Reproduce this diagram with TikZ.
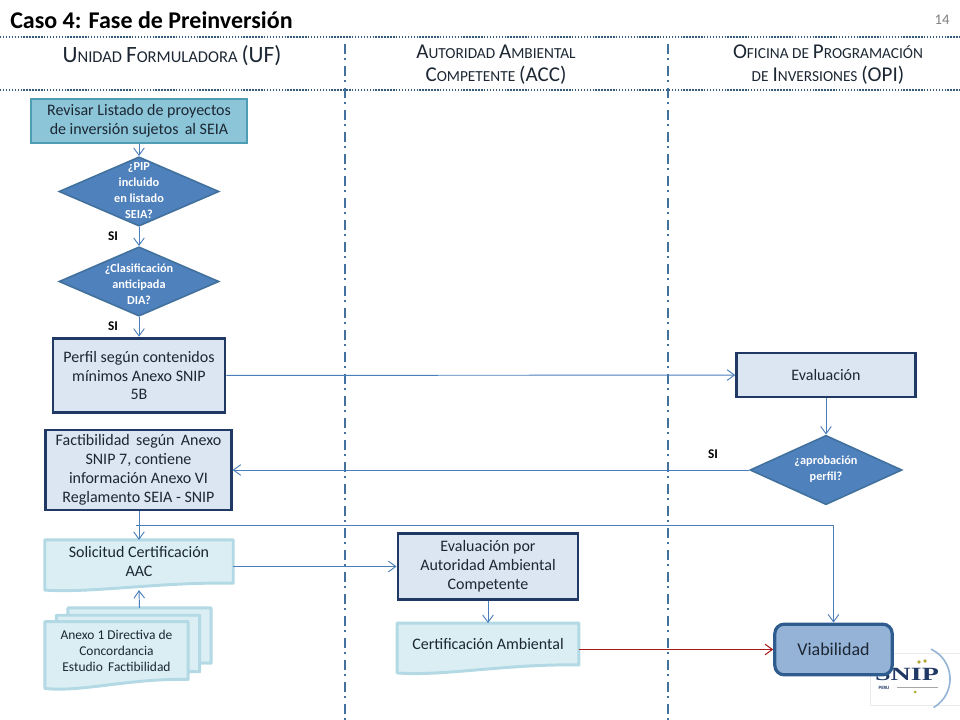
\documentclass[tikz,border=0pt]{standalone}
\usepackage{fontspec}
\setmainfont{Carlito}
\newfontfamily\logofont{Liberation Serif}
\usetikzlibrary{positioning,shapes.geometric,arrows.meta,calc,backgrounds}
\definecolor{snip_blue}{HTML}{4F81BD}
\definecolor{snip_navy}{HTML}{1F3864}
\definecolor{snip_line}{HTML}{4A7EBB}
\definecolor{snip_lane}{HTML}{41719C}
\definecolor{snip_pale}{HTML}{DCE6F2}
\definecolor{snip_teal}{HTML}{8CC5D8}
\definecolor{snip_tealdark}{HTML}{4F9DB5}
\definecolor{snip_doc}{HTML}{DAEEF3}
\definecolor{snip_docline}{HTML}{B2D9E4}
\definecolor{snip_viab}{HTML}{95B3D7}
\definecolor{snip_viabline}{HTML}{2F5C8F}
\definecolor{snip_red}{HTML}{A81C1C}
\definecolor{snip_text}{HTML}{1C2733}
\tikzset{
  body/.style = {font = \fontsize{12pt}{14.2pt}\selectfont, text = snip_text, align = center},
  taskbox/.style = {rectangle, draw = snip_navy, line width = 2.2pt, fill = snip_pale, body},
  listbox/.style = {rectangle, draw = snip_tealdark, line width = 2.2pt, fill = snip_teal, body},
  question/.style = {diamond, inner sep = 0pt, draw = snip_lane, line width = 1.2pt, fill = snip_blue, text = white, font = \fontsize{9.2pt}{11.9pt}\selectfont\bfseries},
  docnode/.style = {rectangle, inner sep = 0pt, body},
  docline/.style = {draw = snip_docline, line width = 2.2pt, fill = snip_doc, line join = round},
  yes/.style = {font = \fontsize{10pt}{10pt}\selectfont\bfseries, text = black},
  header/.style = {font = \fontsize{13pt}{17.2pt}\selectfont, text = snip_text, align = center},
  flow/.style = {->, draw = snip_line, line width = 0.7pt},
  rule/.style = {draw = snip_lane!80!black, line width = 1pt, dash pattern = on 1.1pt off 1.1pt},
  lane/.style = {draw = snip_lane, line width = 1.2pt, dash pattern = on 7.5pt off 3pt on 1.5pt off 4.5pt}
}
\newcommand{\capsmall}[2]{{\fontsize{17.5pt}{15pt}\selectfont #1}{\fontsize{12.4pt}{10pt}\selectfont #2}}
\newcommand{\capsmid}[2]{{\fontsize{15.8pt}{13pt}\selectfont #1}{\fontsize{11.5pt}{10pt}\selectfont #2}}
\newcommand{\qtext}[1]{\smash{\makebox[0pt]{\begin{tabular}{@{}c@{}}#1\end{tabular}}}}
\newcommand{\docback}[2]{%
  \begin{pgfonlayer}{background}
    \draw [docline] (#1.south east) -- (#1.north east) -- (#1.north west) -- ($(#1.south west)+(0,#2)$)
      .. controls ($(#1.south west)!.25!(#1.south east)+(0,#2*1.45)$) and ($(#1.south west)!.6!(#1.south east)+(0,-#2*.15)$) .. (#1.south east) -- cycle;
  \end{pgfonlayer}}

\begin{document}
\begin{tikzpicture}[x = 0.75pt, y = -0.75pt, >={Straight Barb[length=5.5pt,width=8pt]}]
\useasboundingbox (0,0) rectangle (960,720);
% title and lanes
\node (Title) [anchor = west, inner sep = 0pt, font = \fontsize{18pt}{20pt}\selectfont\bfseries, text = black] at (10,20) {Caso 4: Fase de Preinversión};
\node (Page) [font = \fontsize{11pt}{12pt}\selectfont, text = black!50] at (942,20) {14};
\coordinate (RuleA) at (0,37);
\coordinate (RuleAe) at (960,37);
\coordinate (RuleB) at (0,90);
\coordinate (RuleBe) at (960,90);
\coordinate (LaneA) at (345,44);
\coordinate (LaneAe) at (345,720);
\coordinate (LaneB) at (668,44);
\coordinate (LaneBe) at (668,720);
\path [rule] (RuleA) -- (RuleAe);
\path [rule] (RuleB) -- (RuleBe);
\path [lane] (LaneA) -- (LaneAe);
\path [lane] (LaneB) -- (LaneBe);
\node (UF) [header] at (172,56) {\capsmall{U}{NIDAD} \capsmall{F}{ORMULADORA} \capsmall{(UF)}{}};
\node (ACC) [header] at (496,65) {\capsmid{A}{UTORIDAD} \capsmid{A}{MBIENTAL}\\\capsmid{C}{OMPETENTE} \capsmid{(ACC)}{}};
\node (OPI) [header] at (828,65) {\capsmid{O}{FICINA DE} \capsmid{P}{ROGRAMACIÓN}\\\capsmid{}{DE} \capsmid{I}{NVERSIONES} \capsmid{(OPI)}{}};
% logo
\node (Logo) [rectangle, draw = black!8, fill = white, minimum width = 67.5pt, minimum height = 39pt, inner sep = 0pt] at (915,679) {};
\node (LogoName) [inner sep = 0pt, xscale = 1.5, font = \logofont\fontsize{14pt}{14pt}\selectfont\bfseries, text = snip_navy] at (907,674.5) {SNIP};
\node (LogoPeru) [inner sep = 0pt, font = \fontsize{3.6pt}{4pt}\selectfont\bfseries, text = snip_navy] at (884,688) {PERU};
\draw [snip_blue!60, line width = 1.2pt] (917,679) ++(-65:33) arc [start angle = -65, end angle = 60, radius = 33];
\draw [black!35, line width = 0.5pt] (897,687) -- (938,687);
\fill [olive!70] (919,662) circle (1.8) (925,661) circle (1.8) (915,692) circle (1.5);
% left lane
\node (List) [listbox, minimum width = 162pt, minimum height = 33pt] at (139,121) {Revisar Listado de proyectos\\de inversión sujetos \,al SEIA};
\node (Q1) [question, minimum width = 120pt, minimum height = 52pt] at (139,191.5) {\raisebox{-4.5pt}{\qtext{¿PIP\\incluido\\en listado\\SEIA?}}};
\node (Q2) [question, minimum width = 120pt, minimum height = 52pt] at (139,281.5) {\raisebox{-10pt}{\qtext{¿Clasificación\\anticipada\\DIA?}}};
\node (Perfil) [taskbox, minimum width = 129pt, minimum height = 56pt] at (139,375.5) {Perfil según contenidos\\mínimos Anexo SNIP\\5B};
\node (Fact) [taskbox, minimum width = 139pt, minimum height = 60pt] at (138.5,470) {Factibilidad \,según \,Anexo\\SNIP 7, contiene\\información Anexo VI\\Reglamento SEIA - SNIP};
\node (Sol) [docnode, minimum width = 141pt, minimum height = 32pt] at (139,561.5) {Solicitud Certificación\\AAC};
\docback{Sol}{7}
\node (Back) [docnode, minimum width = 107pt, minimum height = 41pt] at (139.5,635.5) {};
\docback{Back}{8}
\node (Mid) [docnode, minimum width = 107pt, minimum height = 42pt] at (128,643.5) {};
\docback{Mid}{8}
\node (Annex) [docnode, minimum width = 107pt, minimum height = 43pt, font = \fontsize{10.1pt}{12pt}\selectfont] at (116.5,650.5) {Anexo 1 Directiva de\\Concordancia\\Estudio \,Factibilidad};
\docback{Annex}{9}
\node (SI1) [yes] at (113,236) {SI};
\node (SI2) [yes] at (113,326) {SI};
% middle lane
\node (Eval) [taskbox, minimum width = 135pt, minimum height = 49pt] at (488,566.5) {Evaluación por\\Autoridad Ambiental\\Competente};
\node (Cert) [docnode, minimum width = 136pt, minimum height = 31pt] at (488,644) {Certificación Ambiental};
\docback{Cert}{8}
% right lane
\node (EvalOPI) [taskbox, minimum width = 134pt, minimum height = 33pt] at (826,375) {Evaluación};
\node (Q3) [question, minimum width = 114pt, minimum height = 52pt] at (826,470) {\raisebox{-4pt}{\qtext{¿aprobación\\perfil?}}};
\node (SI3) [yes] at (713,454) {SI};
\node (Viab) [rectangle, rounded corners = 7pt, draw = snip_viabline, line width = 2.4pt, fill = snip_viab, minimum width = 88pt, minimum height = 38pt, text = snip_text, font = \fontsize{13.5pt}{14pt}\selectfont] at (833.5,649.5) {Viabilidad};
% connectors
\coordinate (Tee) at (136,525);
\coordinate (SolLow) at ($(Sol.south)+(0,7)$);
\draw [flow] (List) -- (Q1);
\draw [flow] (Q1) -- (Q2);
\draw [flow] (Q2) -- (Perfil);
\draw [flow] (Perfil) -- (EvalOPI);
\draw [flow] (EvalOPI) -- (Q3);
\draw [flow] (Q3) -- (Fact);
\draw [flow] (Fact.south -| Sol.north) -- (Sol.north);
\draw [flow] (Tee) -| (Viab.north);
\draw [flow] (Back.north) -- (SolLow);
\draw [flow] (Sol.east |- Eval.west) -- (Eval.west);
\draw [flow] (Eval.south) -- (Cert.north);
\draw [->, draw = snip_red, line width = 0.8pt] (Cert.east |- Viab.west) -- (Viab.west);
\end{tikzpicture}
\end{document}
